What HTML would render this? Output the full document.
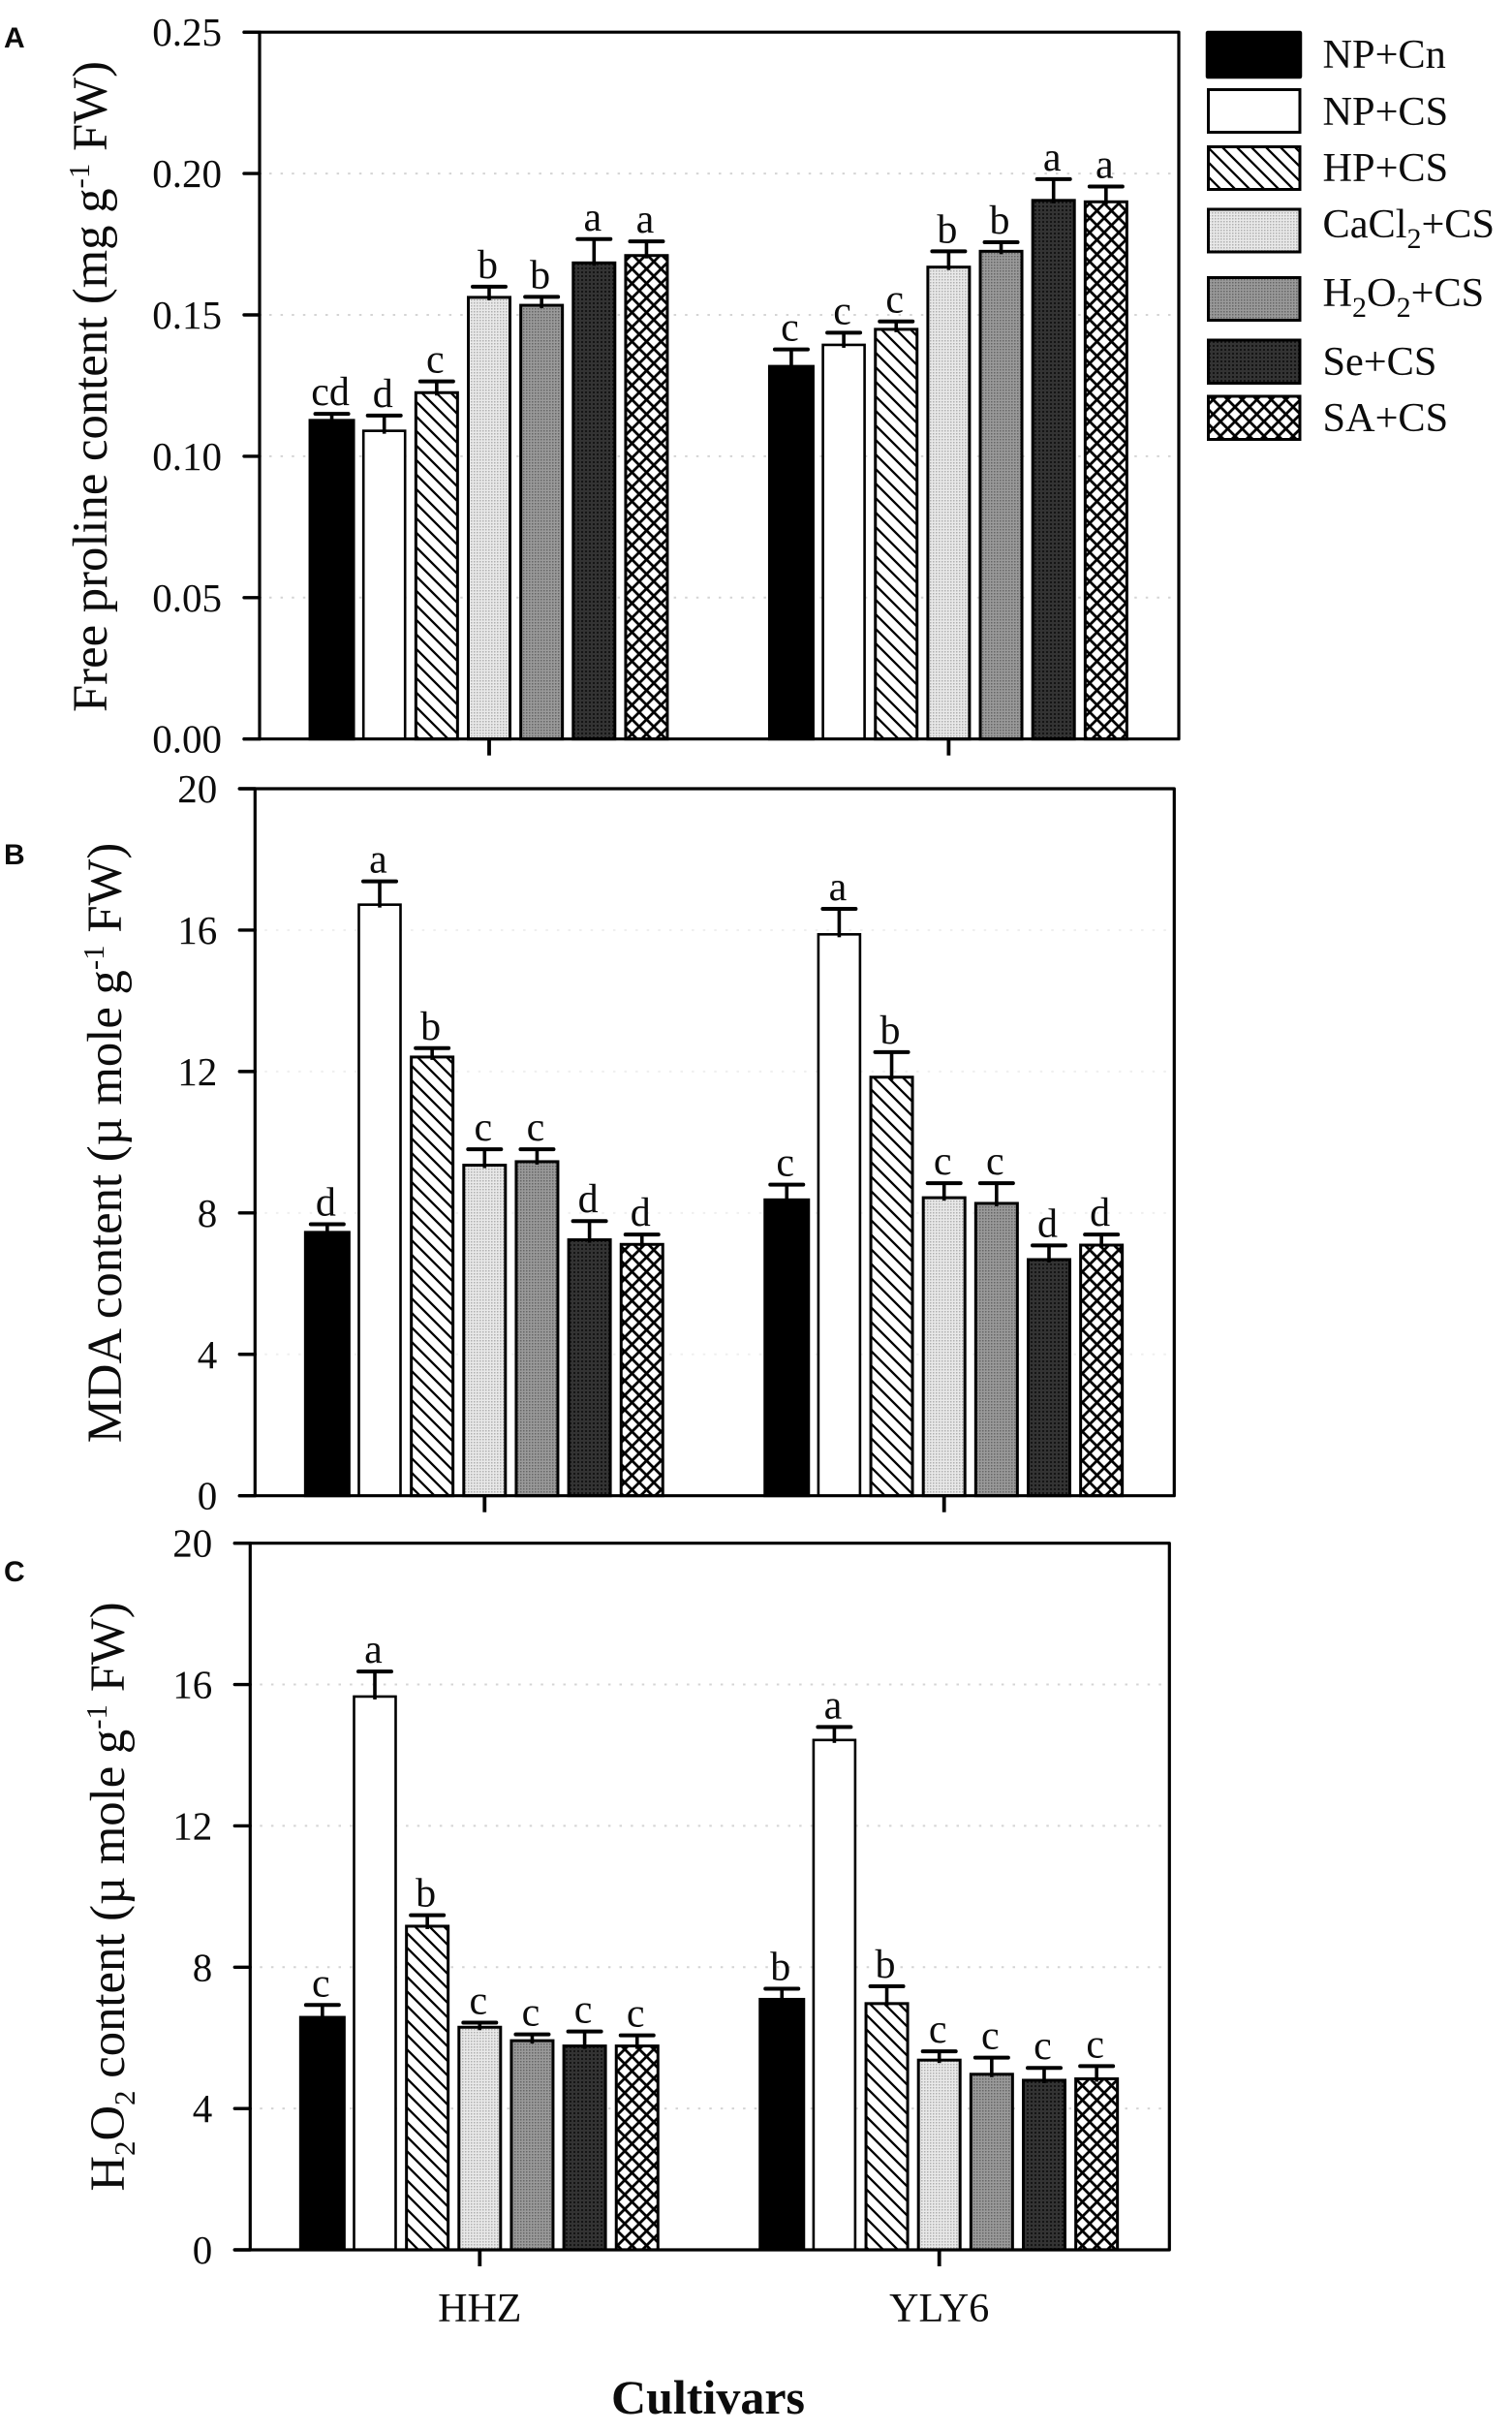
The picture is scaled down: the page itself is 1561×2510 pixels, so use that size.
<!DOCTYPE html>
<html lang="en">
<head>
<meta charset="utf-8">
<title>Free proline, MDA and H2O2 content by cultivar</title>
<style>
html,body{margin:0;padding:0;background:#fff;}
svg{display:block;}
text{font-family:"Liberation Serif",serif;fill:#0c0c0c;}
.panel-letter{font-family:"Liberation Sans",sans-serif;font-weight:bold;font-size:30px;}
.legend-text{font-size:42.3px;}
.title{font-size:50.7px;}
</style>
</head>
<body>
<svg id="chart" xmlns="http://www.w3.org/2000/svg" width="1561" height="2510" viewBox="0 0 1561 2510">
  <defs>
    <pattern id="p-hatch" patternUnits="userSpaceOnUse" width="15" height="15">
      <rect width="15" height="15" fill="#fff"/>
      <path d="M-2,-2 L17,17 M-2,13 L2,17 M13,-2 L17,2" stroke="#000" stroke-width="2.3" fill="none"/>
    </pattern>
    <pattern id="p-light" patternUnits="userSpaceOnUse" width="3" height="3">
      <rect width="3" height="3" fill="#e9e9e9"/>
      <rect x="0" y="0" width="1.5" height="1.5" fill="#b0b0b0"/>
    </pattern>
    <pattern id="p-mid" patternUnits="userSpaceOnUse" width="3" height="3">
      <rect width="3" height="3" fill="#9a9a9a"/>
      <rect x="0" y="0" width="1.5" height="1.5" fill="#666"/>
    </pattern>
    <pattern id="p-dark" patternUnits="userSpaceOnUse" width="4" height="4">
      <rect width="4" height="4" fill="#333"/>
      <rect x="0" y="0" width="2" height="2" fill="#151515"/>
    </pattern>
    <pattern id="p-cross" patternUnits="userSpaceOnUse" width="15" height="15">
      <rect width="15" height="15" fill="#fff"/>
      <path d="M-2,-2 L17,17 M-2,17 L17,-2" stroke="#000" stroke-width="2.8" fill="none"/>
    </pattern>
  </defs>

  <g id="plots"></g>

  <text class="panel-letter" x="4" y="49">A</text>
  <text class="panel-letter" x="4" y="892">B</text>
  <text class="panel-letter" x="4" y="1632">C</text>

  <text class="title" transform="translate(110,399) rotate(-90)" text-anchor="middle">Free proline content (mg g<tspan font-size="31" dy="-18">-1</tspan><tspan dy="18"> FW)</tspan></text>
  <text class="title" transform="translate(125,1179.5) rotate(-90)" text-anchor="middle">MDA content (µ mole g<tspan font-size="31" dy="-18">-1</tspan><tspan dy="18"> FW)</tspan></text>
  <text class="title" transform="translate(128,1957.5) rotate(-90)" text-anchor="middle">H<tspan font-size="31" dy="11">2</tspan><tspan dy="-11">O</tspan><tspan font-size="31" dy="11">2</tspan><tspan dy="-11"> content (µ mole g</tspan><tspan font-size="31" dy="-18">-1</tspan><tspan dy="18"> FW)</tspan></text>

  <text x="731" y="2491" text-anchor="middle" font-size="50" font-weight="bold">Cultivars</text>

  <g>
    <g>
      <rect x="1246" y="33" width="97" height="47" fill="#000" stroke="#000" stroke-width="2.5" rx="1"/>
      <text class="legend-text" x="1365.5" y="70">NP+Cn</text>
    </g>
    <g>
      <rect x="1247.5" y="92.5" width="94.5" height="44" fill="#fff" stroke="#000" stroke-width="3"/>
      <text class="legend-text" x="1365.5" y="129">NP+CS</text>
    </g>
    <g>
      <rect x="1247.5" y="151.5" width="94.5" height="44" fill="url(#p-hatch)" stroke="#000" stroke-width="3"/>
      <text class="legend-text" x="1365.5" y="187">HP+CS</text>
    </g>
    <g>
      <rect x="1247.5" y="216" width="94.5" height="44" fill="url(#p-light)" stroke="#000" stroke-width="3"/>
      <text class="legend-text" x="1365.5" y="245">CaCl<tspan font-size="30" dy="11">2</tspan><tspan dy="-11">+CS</tspan></text>
    </g>
    <g>
      <rect x="1247.5" y="286.5" width="94.5" height="44" fill="url(#p-mid)" stroke="#000" stroke-width="3"/>
      <text class="legend-text" x="1365.5" y="316">H<tspan font-size="30" dy="11">2</tspan><tspan dy="-11">O</tspan><tspan font-size="30" dy="11">2</tspan><tspan dy="-11">+CS</tspan></text>
    </g>
    <g>
      <rect x="1247.5" y="351" width="94.5" height="44.5" fill="url(#p-dark)" stroke="#000" stroke-width="3"/>
      <text class="legend-text" x="1365.5" y="387">Se+CS</text>
    </g>
    <g>
      <rect x="1247.5" y="409" width="94.5" height="44.5" fill="url(#p-cross)" stroke="#000" stroke-width="3"/>
      <text class="legend-text" x="1365.5" y="445">SA+CS</text>
    </g>
  </g>
</svg>

<script>
// ---- data ----
const cultivars = ['HHZ', 'YLY6'];
const treatments = ['NP+Cn', 'NP+CS', 'HP+CS', 'CaCl2+CS', 'H2O2+CS', 'Se+CS', 'SA+CS'];

const prolineTicks = ['0.00', '0.05', '0.10', '0.15', '0.20', '0.25'];
const prolineHHZ = [0.1127, 0.1090, 0.1225, 0.1562, 0.1534, 0.1684, 0.1710];
const prolineYLY6 = [0.1318, 0.1394, 0.1449, 0.1669, 0.1725, 0.1905, 0.1900];
const prolineHHZUpper = [0.1150, 0.1144, 0.1265, 0.1600, 0.1564, 0.1768, 0.1760];
const prolineYLY6Upper = [0.1378, 0.1437, 0.1477, 0.1725, 0.1757, 0.1980, 0.1954];
const prolineHHZLetters = ['cd', 'd', 'c', 'b', 'b', 'a', 'a'];
const prolineYLY6Letters = ['c', 'c', 'c', 'b', 'b', 'a', 'a'];

const mdaTicks = ['0', '4', '8', '12', '16', '20'];
const mdaHHZ = [7.45, 16.72, 12.41, 9.35, 9.45, 7.24, 7.11];
const mdaYLY6 = [8.37, 15.88, 11.84, 8.43, 8.27, 6.68, 7.09];
const mdaHHZUpper = [7.68, 17.38, 12.66, 9.80, 9.80, 7.77, 7.39];
const mdaYLY6Upper = [8.80, 16.60, 12.55, 8.84, 8.84, 7.08, 7.39];
const mdaHHZLetters = ['d', 'a', 'b', 'c', 'c', 'd', 'd'];
const mdaYLY6Letters = ['c', 'a', 'b', 'c', 'c', 'd', 'd'];

const h2o2Ticks = ['0', '4', '8', '12', '16', '20'];
const h2o2HHZ = [6.58, 15.66, 9.16, 6.30, 5.92, 5.77, 5.77];
const h2o2YLY6 = [7.09, 14.43, 6.97, 5.37, 4.97, 4.80, 4.84];
const h2o2HHZUpper = [6.93, 16.37, 9.47, 6.43, 6.10, 6.18, 6.07];
const h2o2YLY6Upper = [7.39, 14.80, 7.46, 5.62, 5.44, 5.15, 5.20];
const h2o2HHZLetters = ['c', 'a', 'b', 'c', 'c', 'c', 'c'];
const h2o2YLY6Letters = ['b', 'a', 'b', 'c', 'c', 'c', 'c'];

const NS = 'http://www.w3.org/2000/svg';
const plots = document.getElementById('plots');
const seriesFills = ['#000', '#fff', 'url(#p-hatch)', 'url(#p-light)', 'url(#p-mid)', 'url(#p-dark)', 'url(#p-cross)'];

function make(tag, parent, props) {
  const el = document.createElementNS(NS, tag);
  for (const k in props) el.setAttribute(k, props[k]);
  parent.appendChild(el);
  return el;
}

function drawPanel(cfg) {
  const W = 949;
  const left = cfg.left, right = left + W, top = cfg.top, bottom = cfg.bottom;
  const yMax = parseFloat(cfg.ticks[cfg.ticks.length - 1]);
  const y = v => bottom - (v / yMax) * (bottom - top);
  const groupCenter = g => left + 237 + g * 474.4;
  const x = (g, s) => groupCenter(g) + (s - 3) * 54.15;

  const panel = make('g', plots, {});
  
  

  // gridlines
  cfg.ticks.forEach((t, i) => {
    if (i === 0 || i === cfg.ticks.length - 1) return;
    const v = parseFloat(t);
    const grid = make('line', panel, {
      x1: left + 10, x2: right - 6, y1: y(v), y2: y(v),
      stroke: cfg.gridColor, 'stroke-width': 2, 'stroke-dasharray': '2.5 9.1'
    });
    
    
  });

  // bars, error bars and letters
  cfg.series.forEach((group, g) => {
    group.means.forEach((mean, s) => {
      const cx = x(g, s);
      const isBlack = s === 0;
      const barW = isBlack ? 45 : 43;
      const bar = make('rect', panel, {
        x: cx - barW / 2, y: y(mean), width: barW, height: bottom - y(mean),
        fill: seriesFills[s], stroke: '#000', 'stroke-width': s === 1 ? 2.6 : 3
      });
      
      

      const upper = group.upper[s];
      const stem = make('line', panel, {
        x1: cx, x2: cx, y1: y(mean) + 3, y2: y(upper),
        stroke: '#000', 'stroke-width': 3.6
      });
      
      

      const cap = make('line', panel, {
        x1: cx - 17, x2: cx + 17, y1: y(upper), y2: y(upper),
        stroke: '#000', 'stroke-width': 4, 'stroke-linecap': 'round'
      });
      
      

      const letter = make('text', panel, {
        x: cx - 1.5, y: y(upper) - 9, 'text-anchor': 'middle', 'font-size': 42
      });
      letter.textContent = group.letters[s];
      
      
    });
  });

  // frame
  const frame = make('path', panel, {
    d: 'M' + (left - 16) + ',' + top + ' H' + right + ' V' + bottom + ' H' + (left - 16) + ' M' + left + ',' + top + ' V' + bottom,
    fill: 'none', stroke: '#000', 'stroke-width': 3.2, 'stroke-linejoin': 'round', 'stroke-linecap': 'round'
  });
  
  

  // y ticks
  cfg.ticks.forEach(t => {
    const v = parseFloat(t);
    const tick = make('line', panel, {
      x1: left - 16, x2: left, y1: y(v), y2: y(v),
      stroke: '#000', 'stroke-width': 3.4, 'stroke-linecap': 'round'
    });
    
    

    const label = make('text', panel, {
      x: left - 39, y: y(v) + 14, 'text-anchor': 'end', 'font-size': 41
    });
    label.textContent = t;
    
    
  });

  // x ticks
  cultivars.forEach((name, g) => {
    const tick = make('line', panel, {
      x1: groupCenter(g), x2: groupCenter(g), y1: bottom, y2: bottom + 17,
      stroke: '#000', 'stroke-width': 3.8
    });
    
    

    if (cfg.showCultivars) {
      const label = make('text', panel, {
        x: groupCenter(g), y: bottom + 74, 'text-anchor': 'middle', 'font-size': 42
      });
      label.textContent = name;
      
      
    }
  });
}

drawPanel({
  key: 'proline', left: 268, top: 33.2, bottom: 762.7, ticks: prolineTicks, gridColor: '#d4d4d4',
  series: [
    { means: prolineHHZ, upper: prolineHHZUpper, letters: prolineHHZLetters },
    { means: prolineYLY6, upper: prolineYLY6Upper, letters: prolineYLY6Letters }
  ]
});
drawPanel({
  key: 'mda', left: 263.3, top: 814, bottom: 1543.7, ticks: mdaTicks, gridColor: '#efefef',
  series: [
    { means: mdaHHZ, upper: mdaHHZUpper, letters: mdaHHZLetters },
    { means: mdaYLY6, upper: mdaYLY6Upper, letters: mdaYLY6Letters }
  ]
});
drawPanel({
  key: 'h2o2', left: 258.3, top: 1592.7, bottom: 2322, ticks: h2o2Ticks, gridColor: '#d4d4d4', showCultivars: true,
  series: [
    { means: h2o2HHZ, upper: h2o2HHZUpper, letters: h2o2HHZLetters },
    { means: h2o2YLY6, upper: h2o2YLY6Upper, letters: h2o2YLY6Letters }
  ]
});
</script>
</body>
</html>
